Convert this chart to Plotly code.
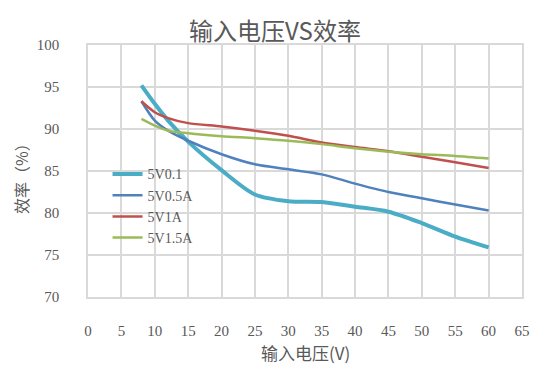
import plotly.graph_objects as go

names = ["5V0.1", "5V0.5A", "5V1A", "5V1.5A"]
colors = ["#4BACC6", "#4F81BD", "#C0504D", "#9BBB59"]
widths = [4, 2.5, 2.5, 2.5]

x_cyan = [8, 10, 12, 15, 20, 25, 30, 35, 40, 45, 50, 55, 60]
y_cyan = [95.2, 93.0, 91.0, 88.5, 85.1, 82.2, 81.4, 81.3, 80.75, 80.15, 78.8, 77.2, 75.9]
x_blue = [8, 10, 12, 15, 20, 25, 30, 35, 40, 45, 50, 55, 60]
y_blue = [93.3, 91.0, 89.8, 88.6, 87.0, 85.8, 85.2, 84.6, 83.5, 82.5, 81.75, 81.0, 80.3]
x_red = [8, 10, 12, 15, 20, 25, 30, 35, 40, 45, 50, 55, 60]
y_red = [93.3, 92.0, 91.3, 90.7, 90.3, 89.8, 89.2, 88.4, 87.85, 87.35, 86.7, 86.05, 85.35]
x_green = [8, 10, 12, 15, 20, 25, 30, 35, 40, 45, 50, 55, 60]
y_green = [91.2, 90.4, 89.8, 89.5, 89.15, 88.9, 88.6, 88.2, 87.7, 87.3, 87.0, 86.8, 86.5]

x_ticks = list(range(0, 70, 5))
y_ticks = list(range(70, 105, 5))

series = [(x_cyan, y_cyan), (x_blue, y_blue), (x_red, y_red), (x_green, y_green)]

fig = go.Figure()
for (xs, ys), n, c, w in zip(series, names, colors, widths):
    fig.add_trace(go.Scatter(x=xs, y=ys, name=n, mode="lines",
                             line=dict(color=c, width=w, shape="spline", smoothing=0.8)))

tick_font = dict(family="Liberation Serif, DejaVu Serif, serif", size=15, color="#595959")
grid = "#d9d9d9"

# page body adds an 8px offset; figure is sized so the plot lands where the reference has it
W, H = 546, 358
fig.update_layout(
    width=W, height=H,
    margin=dict(l=80, r=32, t=37, b=69),
    paper_bgcolor="white", plot_bgcolor="white",
    title=dict(text="输入电压VS效率", x=(275 - 8) / W, xanchor="center", y=1 - (32 - 8) / H, yanchor="middle",
               font=dict(family="Noto Sans CJK SC", size=24, color="#595959")),
    showlegend=True,
    legend=dict(x=0.045, y=0.55, xanchor="left", yanchor="top", bgcolor="rgba(0,0,0,0)",
                font=dict(family="Liberation Serif, DejaVu Serif, serif", size=14, color="#595959"),
                tracegroupgap=0, itemwidth=30),
    xaxis=dict(range=[0, 65], tickvals=x_ticks, ticktext=[str(v) for v in x_ticks],
               showgrid=True, gridcolor=grid, gridwidth=1.5, zeroline=False,
               showline=True, linecolor=grid, linewidth=1.5, mirror=True,
               tickfont=tick_font, ticks="", ticklabelstandoff=19, automargin=False),
    yaxis=dict(range=[70, 100], tickvals=y_ticks, ticktext=[str(v) for v in y_ticks],
               showgrid=True, gridcolor=grid, gridwidth=1.5, zeroline=False,
               showline=True, linecolor=grid, linewidth=1.5, mirror=True,
               tickfont=tick_font, ticks="", ticklabelstandoff=24, automargin=False),
    annotations=[
        dict(text="输入电压(V)", xref="paper", yref="paper", x=0.5, y=-(352 - 297) / 252,
             xanchor="center", yanchor="middle", showarrow=False,
             font=dict(family="Noto Sans CJK SC", size=17, color="#595959")),
        dict(text="效率（%）", xref="paper", yref="paper", x=-(88 - 21) / 434, y=1 - (175 - 45) / 252,
             xanchor="center", yanchor="middle", showarrow=False, textangle=-90,
             font=dict(family="Noto Sans CJK SC", size=16, color="#595959")),
    ],
)

fig.write_html("out.html")
